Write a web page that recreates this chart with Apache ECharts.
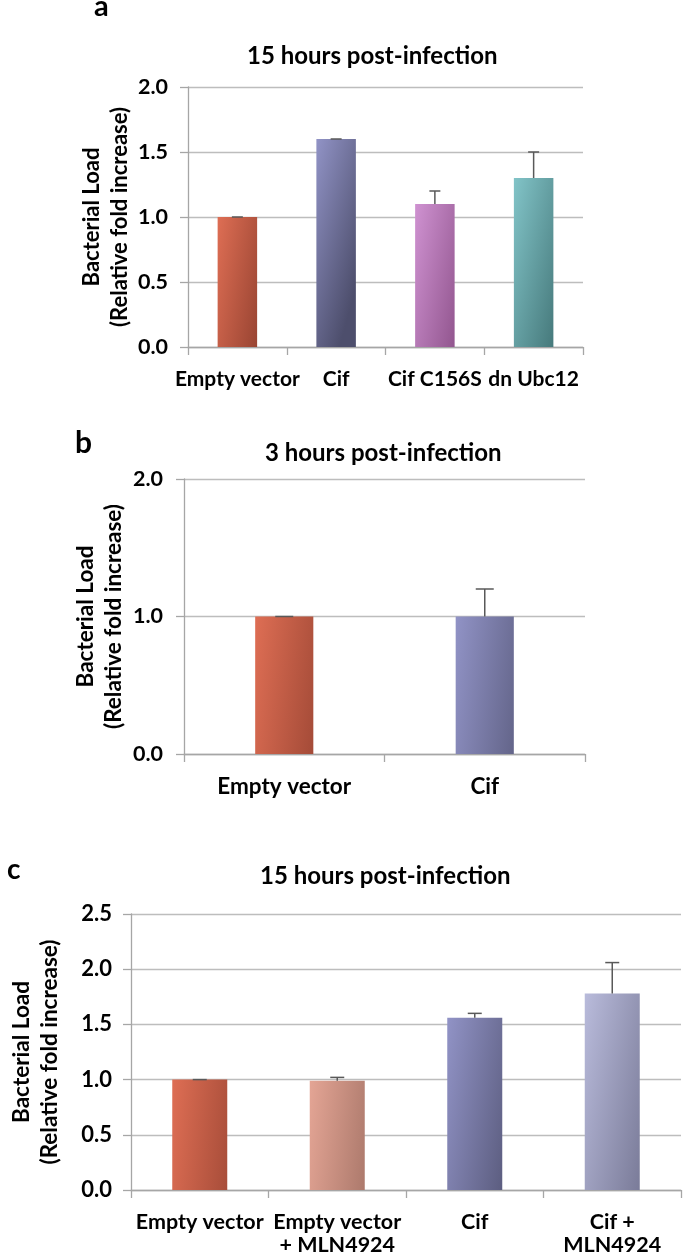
<!DOCTYPE html>
<html>
<head>
<meta charset="utf-8">
<script src="https://cdn.jsdelivr.net/npm/echarts@6/dist/echarts.min.js"></script>
<style>
  html, body { margin: 0; padding: 0; background: #ffffff; }
  #chart { width: 683px; height: 1259px; }
</style>
</head>
<body>
<div id="chart"></div>
<script>
// ---- Data ----
const catsA = ['Empty vector', 'Cif', 'Cif C156S', 'dn Ubc12'];
const valsA = [1.0, 1.6, 1.1, 1.3];
const errA  = [0, 0, 0.1, 0.2];

const catsB = ['Empty vector', 'Cif'];
const valsB = [1.0, 1.0];
const errB  = [0, 0.2];

const catsC = ['Empty vector', 'Empty vector\n+ MLN4924', 'Cif', 'Cif +\nMLN4924'];
const valsC = [1.0, 0.99, 1.56, 1.78];
const errC  = [0, 0.03, 0.04, 0.28];

const titles = ['15 hours post-infection', '3 hours post-infection', '15 hours post-infection'];
const panelLetters = ['a', 'b', 'c'];
const yAxisTitle = 'Bacterial Load\n(Relative fold increase)';

// ---- Styles ----
const FONT = 'Lato';
const pal = {
  ev:     ['#de6e54', '#883a2a'],
  cif:    ['#9193c6', '#4d4e6c'],
  c156s:  ['#cf92d1', '#884c84'],
  ubc12:  ['#82c4c8', '#45787a'],
  evmln:  ['#e4a595', '#8c6054'],
  cifmln: ['#b9bbdb', '#6f708d']
};
const colorsA = [pal.ev, pal.cif, pal.c156s, pal.ubc12];
const colorsB = [pal.ev, pal.cif];
const colorsC = [pal.ev, pal.evmln, pal.cif, pal.cifmln];

function grad(c) {
  // mostly horizontal, slightly downward: light at top-left, dark at bottom-right
  return new echarts.graphic.LinearGradient(0, 0, 1.9, 0.1, [
    { offset: 0, color: c[0] }, { offset: 1, color: c[1] }
  ]);
}

function errRenderer(capW) {
  return function (params, api) {
    const i = api.value(0), v = api.value(1), e = api.value(2);
    const p0 = api.coord([i, v]);
    const p1 = api.coord([i, v + e]);
    const st = { stroke: '#595959', lineWidth: 1.5 };
    return {
      type: 'group',
      children: [
        { type: 'line', shape: { x1: p0[0], y1: p0[1], x2: p1[0], y2: p1[1] }, style: st },
        { type: 'line', shape: { x1: p1[0] - capW / 2, y1: p1[1], x2: p1[0] + capW / 2, y2: p1[1] }, style: st }
      ]
    };
  };
}

const grids = [
  { left: 188, top: 87, width: 395, height: 260 },
  { left: 184, top: 479, width: 401, height: 275 },
  { left: 125, top: 914, width: 556, height: 276 }
];

function xAxisCfg(idx, cats, fs, margin, lh) {
  return {
    type: 'category', gridIndex: idx, data: cats,
    axisLine: { lineStyle: { color: '#a6a6a6', width: 1.3 } },
    axisTick: { show: true, length: 8, lineStyle: { color: '#a6a6a6', width: 1.3 } },
    axisLabel: { color: '#000', fontFamily: FONT, fontWeight: 'bold', fontSize: fs, margin: margin, lineHeight: lh, interval: 0 }
  };
}
function yAxisCfg(idx, max, interval, fs, lblMargin, nameGap, nfs) {
  return {
    type: 'value', gridIndex: idx, min: 0, max: max, interval: interval,
    axisLine: { show: true, lineStyle: { color: '#a6a6a6', width: 1.3 } },
    axisTick: { show: true, length: 8, lineStyle: { color: '#a6a6a6', width: 1.3 } },
    splitLine: { show: true, lineStyle: { color: '#bdbdbd', width: 1.4 } },
    axisLabel: { color: '#000', fontFamily: FONT, fontWeight: 'bold', fontSize: fs, margin: lblMargin,
      formatter: v => v.toFixed(1) },
    name: yAxisTitle, nameLocation: 'middle', nameRotate: 90, nameGap: nameGap,
    nameMoveOverlap: false,
    nameTextStyle: { color: '#000', fontFamily: FONT, fontWeight: 'bold', fontSize: nfs, lineHeight: 28, align: 'center' }
  };
}

function barSeries(idx, vals, colors, bw) {
  return {
    type: 'bar', xAxisIndex: idx, yAxisIndex: idx, barWidth: bw,
    data: vals.map((v, i) => ({ value: v, itemStyle: { color: grad(colors[i]) } })),
    silent: true, z: 2
  };
}
function errSeries(idx, vals, errs, capW) {
  return {
    type: 'custom', xAxisIndex: idx, yAxisIndex: idx,
    renderItem: errRenderer(capW),
    encode: { x: 0, y: 1 },
    data: vals.map((v, i) => [i, v, errs[i]]),
    silent: true, z: 5
  };
}

const chart = echarts.init(document.getElementById('chart'), null, { renderer: 'canvas' });
chart.setOption({
  animation: false,
  backgroundColor: '#ffffff',
  textStyle: { fontFamily: FONT },
  grid: grids,
  xAxis: [
    xAxisCfg(0, catsA, 21, 20, 24),
    xAxisCfg(1, catsB, 22.5, 21, 24),
    xAxisCfg(2, catsC, 21.5, 21, 23)
  ],
  yAxis: [
    yAxisCfg(0, 2, 0.5, 21.5, 20, 54, 22),
    yAxisCfg(1, 2, 1, 21.5, 21, 56, 22.5),
    yAxisCfg(2, 2.5, 0.5, 22, 19, 67, 22.5)
  ],
  series: [
    barSeries(0, valsA, colorsA, '40%'),
    errSeries(0, valsA, errA, 11),
    barSeries(1, valsB, colorsB, '29%'),
    errSeries(1, valsB, errB, 18),
    barSeries(2, valsC, colorsC, '40%'),
    errSeries(2, valsC, errC, 14)
  ],
  graphic: [
    { type: 'text', left: 247, top: 44, style: { text: titles[0], font: 'bold 24px Lato', fill: '#000' } },
    { type: 'text', left: 265, top: 441, style: { text: titles[1], font: 'bold 24px Lato', fill: '#000' } },
    { type: 'text', left: 260, top: 864, style: { text: titles[2], font: 'bold 24px Lato', fill: '#000' } },
    { type: 'text', left: 94, top: -8, style: { text: panelLetters[0], font: 'bold 29px Lato', fill: '#000' } },
    { type: 'text', left: 75, top: 428, style: { text: panelLetters[1], font: 'bold 30px Lato', fill: '#000' } },
    { type: 'text', left: 7, top: 856, style: { text: panelLetters[2], font: 'bold 28px Lato', fill: '#000' } }
  ]
});
</script>
</body>
</html>
